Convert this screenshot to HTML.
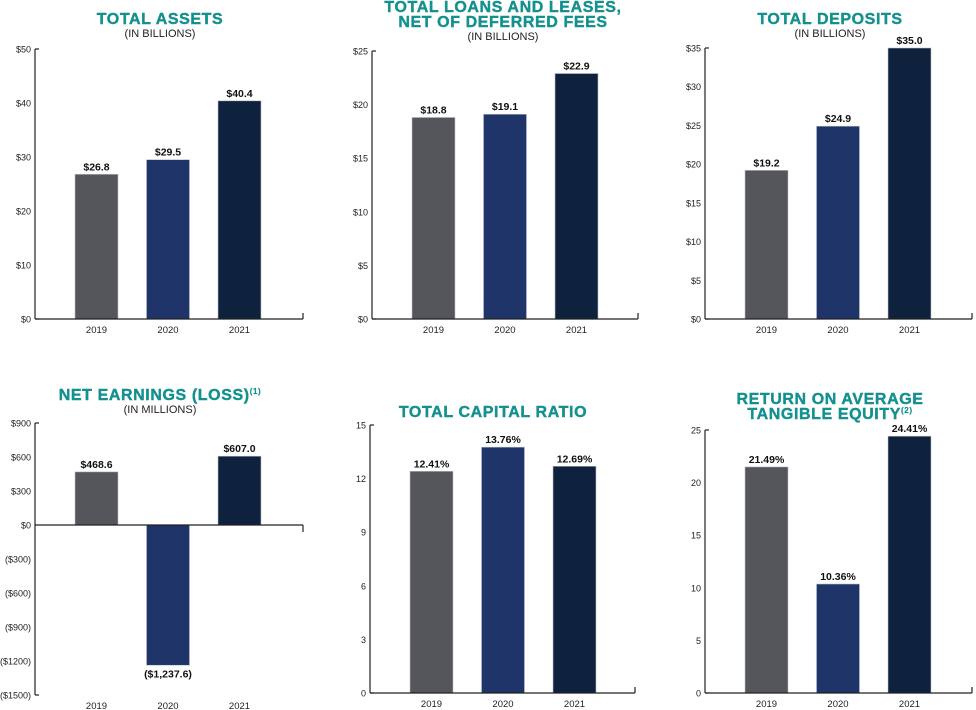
<!DOCTYPE html>
<html><head><meta charset="utf-8"><style>
body{margin:0;background:#fff;width:976px;height:710px;overflow:hidden;font-family:"Liberation Sans",sans-serif}
svg{display:block}
.t{font-weight:bold;fill:#14918f;font-size:16px;text-anchor:middle;letter-spacing:0.6px;stroke:#14918f;stroke-width:0.4}
.s{fill:#222;font-size:11px;text-anchor:middle}
.tk{fill:#222;font-size:9px;text-anchor:end}
.yr{fill:#222;font-size:9.5px;text-anchor:middle}
.v{fill:#111;font-size:10.5px;font-weight:bold;text-anchor:middle}
</style></head><body>
<svg id="c" width="976" height="710"></svg>
<script>
const years=["2019","2020","2021"];
const assetsVals=[26.8,29.5,40.4];
const assetsLabels=["$26.8","$29.5","$40.4"];
const assetsTicks=[0,10,20,30,40,50];
const loansVals=[18.8,19.1,22.9];
const loansLabels=["$18.8","$19.1","$22.9"];
const loansTicks=[0,5,10,15,20,25];
const depositsVals=[19.2,24.9,35.0];
const depositsLabels=["$19.2","$24.9","$35.0"];
const depositsTicks=[0,5,10,15,20,25,30,35];
const earningsVals=[468.6,-1237.6,607.0];
const earningsLabels=["$468.6","($1,237.6)","$607.0"];
const earningsTicks=[-1500,-1200,-900,-600,-300,0,300,600,900];
const capitalVals=[12.41,13.76,12.69];
const capitalLabels=["12.41%","13.76%","12.69%"];
const capitalTicks=[0,3,6,9,12,15];
const roteVals=[21.49,10.36,24.41];
const roteLabels=["21.49%","10.36%","24.41%"];
const roteTicks=[0,5,10,15,20,25];
const colors=["#55565b","#1f3569","#0e213d"];
const NS="http://www.w3.org/2000/svg";
const svg=document.getElementById('c');
function el(t,a,txt){const e=document.createElementNS(NS,t);for(const k in a)e.setAttribute(k,a[k]);if(txt!==undefined)e.textContent=txt;svg.appendChild(e);return e;}
function fmtDollar(t){return t<0?"($"+(-t)+")":"$"+t;}
function chart(o){
  const [min,max]=[o.ticks[0],o.ticks[o.ticks.length-1]];
  const y=v=>o.bot-(v-min)/(max-min)*(o.bot-o.top);
  o.titles.forEach((t,i)=>{const e=el('text',{x:o.cx,y:o.ty+i*15,class:'t'},t);
    
    
    if(o.sup&&i===o.titles.length-1){const s=document.createElementNS(NS,'tspan');s.setAttribute('font-size','8');s.setAttribute('dy','-6');s.setAttribute('stroke-width','0.2');s.textContent=o.sup;e.appendChild(s);}});
  if(o.sub){const e=el('text',{x:o.cx,y:o.ty+(o.titles.length-1)*15+13,class:'s'},o.sub);
    
    }
  o.ticks.forEach(t=>{const e=el('text',{x:o.ax-4,y:y(t)+3.5,class:'tk'},o.fmt(t));
    
    });
  const ya=el('line',{x1:o.ax,x2:o.ax,y1:o.top,y2:o.bot,stroke:'#222','stroke-width':1.2});
  
  
  el('line',{x1:o.ax,x2:o.ax+4,y1:o.top,y2:o.top,stroke:'#222','stroke-width':1.2});
  el('line',{x1:o.ax,x2:o.ax+4,y1:o.bot,y2:o.bot,stroke:'#222','stroke-width':1.2});
  const z=y(Math.max(0,min));
  o.vals.forEach((v,i)=>{
    const bx=o.ax+40+i*71.5, w=43;
    const top=Math.min(y(v),z), h=Math.abs(y(v)-z);
    const r=el('rect',{x:bx,y:top,width:w,height:h,fill:colors[i],stroke:'#b9bfca','stroke-width':0.6});
    
    
    const ly=v>=0?y(v)-4:y(v)+12;
    const l=el('text',{x:bx+w/2,y:ly,class:'v'},o.labels[i]);
    
    
    const yl=el('text',{x:bx+w/2,y:o.bot+14,class:'yr'},years[i]);
    
    
  });
  const xa=el('line',{x1:o.ax,x2:o.xend,y1:z,y2:z,stroke:'#222','stroke-width':1.2});
  
  
  if(min<0) el('line',{x1:o.xend,x2:o.xend,y1:z,y2:z+7,stroke:'#222','stroke-width':1.2});
  else el('line',{x1:o.xend,x2:o.xend,y1:z-6,y2:z,stroke:'#222','stroke-width':1.2});
}
chart({titles:["TOTAL ASSETS"],sub:"(IN BILLIONS)",cx:160,ty:24,ax:35,top:49,bot:319,xend:303,vals:assetsVals,labels:assetsLabels,ticks:assetsTicks,fmt:fmtDollar});
chart({titles:["TOTAL LOANS AND LEASES,","NET OF DEFERRED FEES"],sub:"(IN BILLIONS)",cx:503,ty:12,ax:372,top:51,bot:319,xend:638,vals:loansVals,labels:loansLabels,ticks:loansTicks,fmt:fmtDollar});
chart({titles:["TOTAL DEPOSITS"],sub:"(IN BILLIONS)",cx:830,ty:24,ax:705,top:48,bot:319,xend:972,vals:depositsVals,labels:depositsLabels,ticks:depositsTicks,fmt:fmtDollar});
chart({titles:["NET EARNINGS (LOSS)"],sup:"(1)",sub:"(IN MILLIONS)",cx:160,ty:400,ax:35,top:423,bot:695,xend:303,vals:earningsVals,labels:earningsLabels,ticks:earningsTicks,fmt:fmtDollar});
chart({titles:["TOTAL CAPITAL RATIO"],cx:493,ty:417,ax:370,top:425,bot:693,xend:635,vals:capitalVals,labels:capitalLabels,ticks:capitalTicks,fmt:t=>""+t});
chart({titles:["RETURN ON AVERAGE","TANGIBLE EQUITY"],sup:"(2)",cx:830,ty:404,ax:705,top:430,bot:693,xend:972,vals:roteVals,labels:roteLabels,ticks:roteTicks,fmt:t=>""+t});
</script>
</body></html>
